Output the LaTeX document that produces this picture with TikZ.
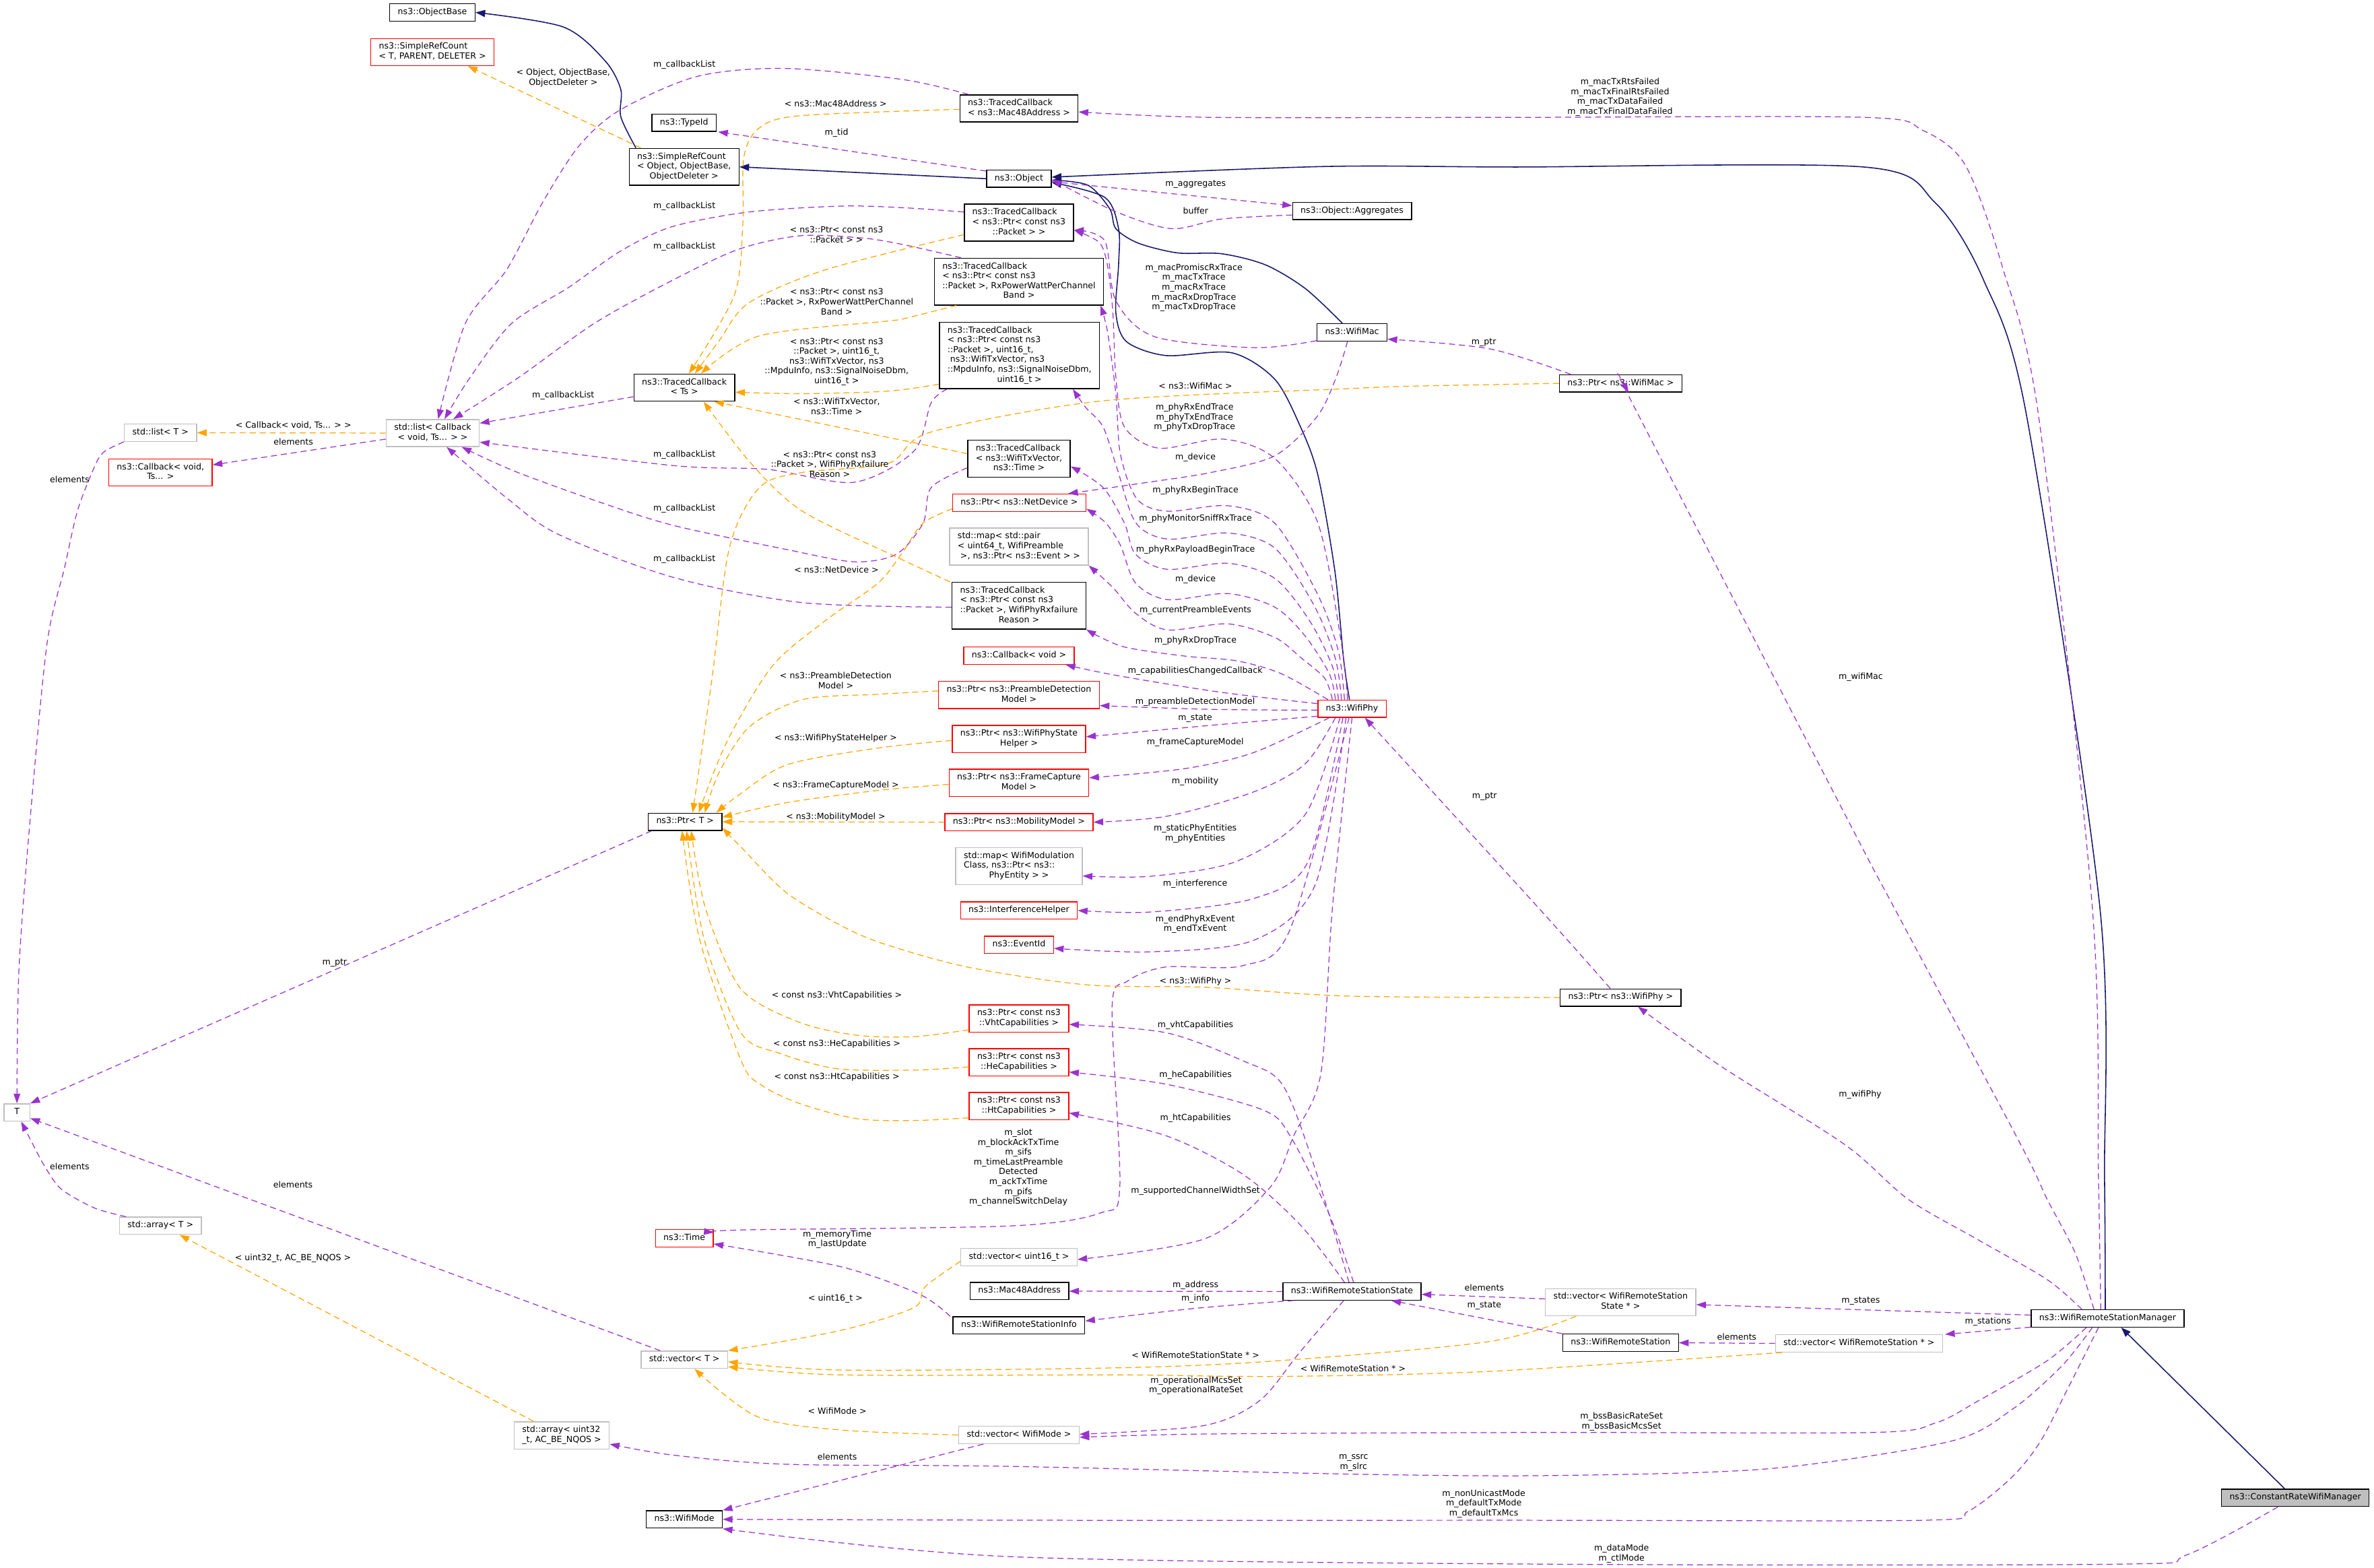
\documentclass[tikz,border=0pt]{standalone}
\usepackage{fontspec}
\setmainfont{DejaVu Sans}
\usetikzlibrary{arrows.meta}
\definecolor{memc}{HTML}{9A32CD}
\definecolor{tplc}{HTML}{FFA500}
\definecolor{inhc}{HTML}{191970}
\definecolor{grayb}{HTML}{BFBFBF}
\newcommand{\nf}{\fontsize{5.6}{6.5}\selectfont}
\newcommand{\nt}[1]{\begin{tabular}{@{}l@{}}#1\end{tabular}}
\newcommand{\lc}[1]{\multicolumn{1}{@{}c@{}}{#1}}
\begin{document}
\begin{tikzpicture}[x=1pt,y=-1pt,
 box/.style={line width=0.6pt, inner xsep=5.3pt, inner ysep=2.45pt, font=\nf, fill=white},
 blkbox/.style={box,draw=black},
 redbox/.style={box,draw=red},
 graybox/.style={box,draw=grayb},
 lbl/.style={font=\nf, align=center, inner sep=0pt},
 lnk/.style={line width=0.55pt, dash pattern=on 4pt off 2.6pt, -{Triangle[length=6.4pt,width=4.4pt]}},
 mem/.style={lnk, draw=memc},
 tpl/.style={lnk, draw=tplc},
 inh/.style={line width=0.7pt, draw=inhc, -{Triangle[length=6.4pt,width=4.6pt]}}]
\fill[white] (0,0) rectangle (1568,1035.5);
\useasboundingbox (0,0) rectangle (1568,1035.5);
% ---------- nodes ----------
\node[blkbox] (objbase) at (285.6,8.2) {\nt{ns3::ObjectBase}};
\node[redbox] (srcT) at (285.6,34.4) {\nt{ns3::SimpleRefCount\\\lc{< T, PARENT, DELETER >}}};
\node[blkbox] (srcObj) at (451.8,110.2) {\nt{ns3::SimpleRefCount\\< Object, ObjectBase,\\\lc{ObjectDeleter >}}};
\node[blkbox] (typeid) at (451.8,81.1) {\nt{ns3::TypeId}};
\node[blkbox] (tcMac) at (673,71.6) {\nt{ns3::TracedCallback\\\lc{< ns3::Mac48Address >}}};
\node[blkbox] (object) at (673,118) {\nt{ns3::Object}};
\node[blkbox] (aggr) at (893,139.3) {\nt{ns3::Object::Aggregates}};
\node[blkbox] (tcPkt) at (673,147) {\nt{ns3::TracedCallback\\< ns3::Ptr< const ns3\\\lc{::Packet > >}}};
\node[blkbox] (tcRx) at (673,186) {\nt{ns3::TracedCallback\\< ns3::Ptr< const ns3\\::Packet >, RxPowerWattPerChannel\\\lc{Band >}}};
\node[blkbox] (wifimac) at (893,219.5) {\nt{ns3::WifiMac}};
\node[blkbox] (tc6) at (673.3,234.7) {\nt{ns3::TracedCallback\\< ns3::Ptr< const ns3\\::Packet >, uint16\_t,\\\ ns3::WifiTxVector, ns3\\::MpduInfo, ns3::SignalNoiseDbm,\\\lc{uint16\_t >}}};
\node[blkbox] (tcTs) at (452,256) {\nt{ns3::TracedCallback\\\lc{< Ts >}}};
\node[blkbox] (ptrMac) at (1070.4,253.2) {\nt{ns3::Ptr< ns3::WifiMac >}};
\node[graybox] (stdlistCb) at (285.8,286) {\nt{std::list< Callback\\\lc{< void, Ts... > >}}};
\node[graybox] (stdlistT) at (106,285.8) {\nt{std::list< T >}};
\node[redbox] (cbvoidTs) at (106,312) {\nt{ns3::Callback< void,\\\lc{Ts... >}}};
\node[blkbox] (tcWtv) at (673,303) {\nt{ns3::TracedCallback\\< ns3::WifiTxVector,\\\lc{ns3::Time >}}};
\node[redbox] (ptrNd) at (673.2,332) {\nt{ns3::Ptr< ns3::NetDevice >}};
\node[graybox] (mapPre) at (673,361) {\nt{std::map< std::pair\\< uint64\_t, WifiPreamble\\\lc{\ >, ns3::Ptr< ns3::Event > >}}};
\node[blkbox] (tcFail) at (673,400) {\nt{ns3::TracedCallback\\< ns3::Ptr< const ns3\\::Packet >, WifiPhyRxfailure\\\lc{Reason >}}};
\node[redbox] (cbvoid) at (673,433) {\nt{ns3::Callback< void >}};
\node[redbox] (ptrPre) at (673,459) {\nt{ns3::Ptr< ns3::PreambleDetection\\\lc{Model >}}};
\node[redbox] (wifiphy) at (893,468) {\nt{ns3::WifiPhy}};
\node[redbox] (ptrState) at (673,488) {\nt{ns3::Ptr< ns3::WifiPhyState\\\lc{Helper >}}};
\node[redbox] (ptrFc) at (673,517) {\nt{ns3::Ptr< ns3::FrameCapture\\\lc{Model >}}};
\node[blkbox] (ptrT) at (452.5,542.7) {\nt{ns3::Ptr< T >}};
\node[redbox] (ptrMob) at (673,543) {\nt{ns3::Ptr< ns3::MobilityModel >}};
\node[graybox] (mapMod) at (673,572) {\nt{std::map< WifiModulation\\Class, ns3::Ptr< ns3::\\\lc{PhyEntity > >}}};
\node[redbox] (interf) at (673,601.3) {\nt{ns3::InterferenceHelper}};
\node[redbox] (eventid) at (673,624) {\nt{ns3::EventId}};
\node[blkbox] (ptrPhy) at (1070.4,658.8) {\nt{ns3::Ptr< ns3::WifiPhy >}};
\node[redbox] (ptrVht) at (673,672.6) {\nt{ns3::Ptr< const ns3\\\lc{::VhtCapabilities >}}};
\node[redbox] (ptrHe) at (673,701.6) {\nt{ns3::Ptr< const ns3\\\lc{::HeCapabilities >}}};
\node[redbox] (ptrHt) at (673,730.5) {\nt{ns3::Ptr< const ns3\\\lc{::HtCapabilities >}}};
\node[graybox, minimum width=17pt] (tnode) at (11.2,734.7) {\nt{T}};
\node[graybox] (arrT) at (106,809.5) {\nt{std::array< T >}};
\node[redbox] (time) at (452,817.8) {\nt{ns3::Time}};
\node[graybox] (vecU16) at (673,830.3) {\nt{std::vector< uint16\_t >}};
\node[blkbox] (mac48) at (673.3,852.7) {\nt{ns3::Mac48Address}};
\node[blkbox] (wrss) at (893,852.9) {\nt{ns3::WifiRemoteStationState}};
\node[graybox] (vecWrss) at (1070.4,860) {\nt{std::vector< WifiRemoteStation\\\lc{State * >}}};
\node[blkbox] (wrsm) at (1392,870.7) {\nt{ns3::WifiRemoteStationManager}};
\node[blkbox] (wrsinfo) at (673,875.3) {\nt{ns3::WifiRemoteStationInfo}};
\node[blkbox] (wrs) at (1070.4,886.8) {\nt{ns3::WifiRemoteStation}};
\node[graybox] (vecWrs) at (1227.8,887.2) {\nt{std::vector< WifiRemoteStation * >}};
\node[graybox] (vecT) at (452,898) {\nt{std::vector< T >}};
\node[graybox] (arrU32) at (371,948) {\nt{std::array< uint32\\\lc{\_t, AC\_BE\_NQOS >}}};
\node[graybox] (vecMode) at (673,947.7) {\nt{std::vector< WifiMode >}};
\node[blkbox, fill=grayb] (crwm) at (1516,989.2) {\nt{ns3::ConstantRateWifiManager}};
\node[blkbox] (wifimode) at (452,1003.4) {\nt{ns3::WifiMode}};
% ---------- inheritance ----------
\draw[inh] plot[smooth] coordinates {([xshift=-31.8pt]srcObj.north) (410,77) (410,59) (399.5,40) (372,17.8) (objbase.east)};
\draw[inh] (object.west) -- (srcObj.east);
\draw[inh] plot[smooth] coordinates {([xshift=-6.4pt]wifimac.north) (862.3,190.7) (836,175) (807,167.6) (777.6,167) (751.6,160.5) (737,151) (733,138) (718.5,122.3) ([yshift=-1pt]object.east)};
\draw[inh] plot[smooth] coordinates {([xshift=-1.7pt]wifiphy.north) (887.5,436) (881.7,377.5) (870.5,314) (859,282) (842,250.5) (813.6,233) (770,234.8) (744,225.6) (737,206.5) (738.8,174.8) (738.8,151) (729.6,130.3) ([yshift=-2.5pt]object.east)};
\draw[inh] plot[smooth] coordinates {([xshift=-1.5pt]wrsm.north) (1390,778) (1387,600) (1338.5,274.4) (1310,184.7) (1278,133.7) (1231,110.3) (1000,110.3) (873,110) ([yshift=1pt]object.east)};
\draw[inh] ([xshift=-7pt]crwm.north) -- ([xshift=9pt]wrsm.south);
% ---------- members ----------
\draw[mem] plot[smooth] coordinates {([xshift=6pt]tcMac.north west) (596.8,52.6) (518.5,45.2) (460.7,50.4) (409.6,72.6) (382.4,96.4) (358.5,133.5) (334.7,178) (307.4,213.5) ([xshift=3.6pt]stdlistCb.north)};
\draw[mem] plot[smooth] coordinates {([yshift=7pt]tcPkt.west) (596.8,137.2) (556,136.1) (494.7,140) (443.6,149.8) (409.6,166) (375.6,189.8) (338,213.5) (310,250) ([xshift=7.8pt]stdlistCb.north)};
\draw[mem] plot[smooth] coordinates {([xshift=18pt]tcRx.north west) (596.8,161.6) (569.6,157.2) (528.7,155.7) (487.9,164.6) (443.6,185.4) (392.6,213.5) (343,249) ([xshift=13.6pt]stdlistCb.north)};
\draw[mem] ([yshift=-6pt]tcTs.west) -- ([yshift=6.5pt]stdlistCb.east);
\draw[mem] plot[smooth] coordinates {([xshift=5.4pt]tc6.south west) (615,266) (603.6,298) (564,318.5) (507,310) (445,307.5) ([yshift=-6pt]stdlistCb.east)};
\draw[mem] plot[smooth] coordinates {([yshift=-6pt]tcWtv.west) (615,322) (609.6,345.6) (592,366) (564,371) (520,363) (444.8,347) (397.2,332) (340.4,311.4) ([xshift=19.2pt]stdlistCb.south)};
\draw[mem] plot[smooth] coordinates {([yshift=-1pt]tcFail.west) (530,398) (445,381.4) (369,353) (334.8,329) ([xshift=9.2pt]stdlistCb.south)};
\draw[mem] ([yshift=-4pt]stdlistCb.west) -- ([yshift=5pt]cbvoidTs.east);
\draw[mem] plot[smooth] coordinates {(stdlistT.south west) (68,299) (61,311.5) (51,338) (42.6,375) (31,425.5) (20,540) (12.5,640.6) (tnode.north)};
\draw[mem] ([xshift=2.5pt]ptrT.south west) -- (tnode.north east);
\draw[mem] plot[smooth] coordinates {([xshift=4.6pt]arrT.north west) (62.4,797.8) (40.6,785.4) (29.6,770.4) (20.3,753) ([xshift=2.8pt]tnode.south)};
\draw[mem] ([xshift=13pt]vecT.north west) -- ([yshift=-3.8pt]tnode.east);
\draw[mem] plot[smooth] coordinates {([xshift=-4.5pt]wrsm.north) (1386,778) (1382,600) (1346.6,275.8) (1322.4,175.8) (1298,109) (1269.8,86) (1231,77.5) (1000,77.5) (800,77.5) ([yshift=-2.3pt]tcMac.east)};
\draw[mem] ([yshift=-2pt]object.east) -- ([yshift=3.5pt]aggr.west);
\draw[mem] plot[smooth] coordinates {([yshift=-2.7pt]aggr.west) (807,144.6) (773.8,151) (737,139.8) ([yshift=-0.5pt]object.east)};
\draw[mem] ([yshift=5pt]object.west) -- ([xshift=1pt]typeid.south east);
\draw[mem] plot[smooth] coordinates {([yshift=-5.5pt]wifimac.west) (829,229.6) (762.7,222.4) (737,198.6) (729.6,159) ([yshift=-5pt]tcPkt.east)};
\draw[mem] plot[smooth] coordinates {([xshift=-3pt]wifiphy.north) (886,425) (870.5,345.6) (842,302.8) (808,290) (765.5,296) (742.7,282) (737,249) (735,206) (731.4,175) (725.9,160) ([yshift=-5pt]tcPkt.east)};
\draw[mem] plot[smooth] coordinates {([xshift=-5pt]wifiphy.north) (884,430) (870.5,393) (842,345.6) (811,334) (771,337.6) (751,329.6) (740,300) (737,260) (731.4,218.6) ([xshift=-2.3pt]tcRx.south east)};
\draw[mem] plot[smooth] coordinates {([xshift=-3pt]wifimac.south) (882.6,249) (870,275) (842,301) (800,312) (757,318.7) ([xshift=-12pt]ptrNd.north east)};
\draw[mem] plot[smooth] coordinates {([xshift=-7pt]wifiphy.north) (882,435) (868,400) (842,362) (811,352) (771,356) (750,345) (738,310) (728.6,282) (717,269) ([xshift=35.3pt]tc6.south)};
\draw[mem] plot[smooth] coordinates {([xshift=-9pt]wifiphy.north) (880,440) (865,410) (842,382) (811,372) (771,376) (750,366) (742.7,345.6) (728.6,322) ([yshift=-5pt]tcWtv.east)};
\draw[mem] plot[smooth] coordinates {([xshift=-11pt]wifiphy.north) (878,445) (862,420) (842,401) (811,392) (771,396) (750,385) (740,360) (730,345) ([yshift=-4pt]ptrNd.east)};
\draw[mem] plot[smooth] coordinates {([xshift=-13pt]wifiphy.north) (875,448) (860,435) (842,421) (811,412) (771,416) (750,405) (735,388) (mapPre.south east)};
\draw[mem] plot[smooth] coordinates {([xshift=-16pt]wifiphy.north) (846,444.8) (816.6,436.4) (782.6,433.3) (741.6,427) (tcFail.south east)};
\draw[mem] plot[smooth] coordinates {([yshift=3.3pt]wifiphy.west) (805,457) (737,446) ([xshift=-6pt]cbvoid.south east)};
\draw[mem] plot[smooth] coordinates {([yshift=-1pt]wifiphy.west) (800,468.5) ([yshift=-7pt]ptrPre.east)};
\draw[mem] plot[smooth] coordinates {([yshift=-5pt]wifiphy.west) (800,479) ([yshift=1.4pt]ptrState.east)};
\draw[mem] plot[smooth] coordinates {([xshift=-15pt]wifiphy.south) (828,497) (782.6,507.6) ([yshift=3.3pt]ptrFc.east)};
\draw[mem] plot[smooth] coordinates {([xshift=-11pt]wifiphy.south) (862,504.5) (828,523) (771,539) (ptrMob.east)};
\draw[mem] plot[smooth] coordinates {([xshift=-8pt]wifiphy.south) (862,538) (816.6,568.9) (760,578.7) ([yshift=-6.5pt]mapMod.east)};
\draw[mem] plot[smooth] coordinates {([xshift=-6pt]wifiphy.south) (864,568.9) (828,593.4) (760,602.3) (interf.east)};
\draw[mem] plot[smooth] coordinates {([xshift=-4pt]wifiphy.south) (868.8,584) (828,621) (760,628.6) ([yshift=-2.3pt]eventid.east)};
\draw[mem] plot[smooth] coordinates {([xshift=-2pt]wifiphy.south) (852,614) (821,637.7) (770,638.6) (744.6,648) (734.5,665) (739.6,784) (727,801) (668,809.6) (489.3,812.3) ([yshift=3.8pt]time.east)};
\draw[mem] plot[smooth] coordinates {(wifiphy.south) (880,600) (872.4,709) (854.5,750) (839,784) (796,818) ([yshift=-1.5pt]vecU16.east)};
\draw[mem] plot[smooth] coordinates {([xshift=-6.8pt]ptrPhy.north) (1017,600.5) ([xshift=8.5pt]wifiphy.south)};
\draw[mem] plot[smooth] coordinates {([xshift=-17pt]wrsm.north) (1352,845) (1306,818.5) (1260,791.8) (1218.6,756) (1136.4,704) ([xshift=11.4pt]ptrPhy.south)};
\draw[mem] plot[smooth] coordinates {([xshift=-9pt]wrsm.north) (1370.6,827.4) (1352,791.8) (1334.7,756) (1251.6,600.5) (1221.6,543.7) (1078.5,267) ([xshift=5.2pt]ptrMac.south)};
\draw[mem] plot[smooth] coordinates {([xshift=-33pt]ptrMac.north) (984,230.4) ([yshift=-4.5pt]wifimac.east)};
\draw[mem] plot[smooth] coordinates {([xshift=-2pt]wrss.north) (867,767) (846.8,716) (821,700.6) (770,682) ([yshift=-3.9pt]ptrVht.east)};
\draw[mem] plot[smooth] coordinates {([xshift=1pt]wrss.north) (877.5,801) (852,750) (834,733) (770,716) ([yshift=-6.4pt]ptrHe.east)};
\draw[mem] plot[smooth] coordinates {([xshift=-5pt]wrss.north) (859.4,809.6) (821,775.6) (770,750) ([yshift=-4.5pt]ptrHt.east)};
\draw[mem] (wrss.west) -- (mac48.east);
\draw[mem] plot[smooth] coordinates {([xshift=7.3pt]wrss.south west) (790,864) ([yshift=2.9pt]wrsinfo.east)};
\draw[mem] plot[smooth] coordinates {([xshift=-1.6pt]wrsinfo.north west) (607,854.6) (555.5,836.6) ([yshift=-3.7pt]time.east)};
\draw[mem] plot[smooth] coordinates {([xshift=-5.5pt]wrss.south) (858,893.6) (832,925) (795,941.5) ([yshift=0.5pt]vecMode.east)};
\draw[mem] ([yshift=2.2pt]wrsm.west) -- ([yshift=-1.6pt]vecWrss.east);
\draw[mem] ([yshift=-5.8pt]wrsm.west) -- ([xshift=1.4pt]vecWrs.north east);
\draw[mem] ([yshift=2.2pt]vecWrss.west) -- ([yshift=-1.9pt]wrss.east);
\draw[mem] (wrs.north west) -- ([xshift=-20pt]wrss.south east);
\draw[mem] (vecWrs.west) -- (wrs.east);
\draw[mem] plot[smooth] coordinates {([xshift=-14pt]wrsm.south) (1352,898.7) (1306,925.5) (1278.5,939.7) (1237,946) (1023,946) (800,947) ([yshift=-1.5pt]vecMode.east)};
\draw[mem] plot[smooth] coordinates {([xshift=-10pt]wrsm.south) (1361.6,902.3) (1329,930.8) (1287.7,952) (1167.8,970) (1023,974.5) (891.3,973.5) (666,968.4) (518.6,967) (444.8,961) ([yshift=-5.7pt]arrU32.east)};
\draw[mem] plot[smooth] coordinates {([xshift=-6pt]wrsm.south) (1366,916.5) (1347.6,952) (1329,975.4) (1300,998) (1270,1004) (1000,1004) (700,1004) (wifimode.east)};
\draw[mem] plot[smooth] coordinates {([xshift=-11.5pt]crwm.south) (1444,1027) (1398,1033) (1023,1033) (666,1028) ([yshift=-6.2pt]wifimode.east)};
\draw[mem] ([xshift=-23.5pt]vecMode.south) -- (wifimode.north east);
% ---------- templates ----------
\draw[tpl] ([xshift=8pt]srcObj.north west) -- ([xshift=23.4pt]srcT.south);
\draw[tpl] (stdlistCb.west) -- (stdlistT.east);
\draw[tpl] ([xshift=-18.4pt]arrU32.north) -- ([xshift=12.6pt]arrT.south);
\draw[tpl] plot[smooth] coordinates {([yshift=-2.7pt]vecU16.west) (610.8,850) (603.5,863.6) (555.5,878.6) (vecT.north east)};
\draw[tpl] plot[smooth] coordinates {([xshift=-29.4pt]vecWrss.south) (983.5,886) (845,898.6) (739.8,903.3) (555.5,904.8) ([yshift=-1.3pt]vecT.east)};
\draw[tpl] plot[smooth] coordinates {([xshift=-50.8pt]vecWrs.south) (983.5,905.7) (845,909) (739.8,908) (555.5,908) ([yshift=-4.6pt]vecT.east)};
\draw[tpl] plot[smooth] coordinates {(vecMode.west) (555.5,944.4) (500,935.5) ([xshift=6.7pt]vecT.south)};
\draw[tpl] plot[smooth] coordinates {([yshift=-0.6pt]tcMac.west) (528.7,76.4) (501.5,84.5) (491.3,103.8) (490.6,148.3) (485,195) ([xshift=3pt]tcTs.north)};
\draw[tpl] plot[smooth] coordinates {([yshift=-8pt]tcPkt.west) (545.7,178) (494.6,200) (475,225) ([xshift=7pt]tcTs.north)};
\draw[tpl] plot[smooth] coordinates {([xshift=14.8pt]tcRx.south west) (596.8,210.5) (586.7,212) (501.6,221.8) ([xshift=11pt]tcTs.north)};
\draw[tpl] plot[smooth] coordinates {([yshift=-19pt]tc6.west) (586.7,258.3) (530,260) ([yshift=-3pt]tcTs.east)};
\draw[tpl] ([yshift=3.4pt]tcWtv.west) -- ([xshift=19.8pt]tcTs.south);
\draw[tpl] plot[smooth] coordinates {([xshift=-1pt]tcFail.north west) (592.4,368) (530,337.6) (496,306) ([xshift=12.7pt]tcTs.south)};
\draw[tpl] plot[smooth] coordinates {(ptrMac.west) (934,255) (889.7,256.7) (728.6,264.7) (615,285.3) (586.7,306) (530,312) (501.6,322) (481.8,361.6) (470,450) ([xshift=5pt]ptrT.north)};
\draw[tpl] plot[smooth] coordinates {([yshift=-4pt]ptrNd.west) (609.5,345.6) (596,365) (580,385) (545,410) (510,440) (480,490) ([xshift=9pt]ptrT.north)};
\draw[tpl] plot[smooth] coordinates {([yshift=2.7pt]ptrPre.west) (578.3,458.6) (530,462) (495,480) (475,510) ([xshift=13pt]ptrT.north)};
\draw[tpl] plot[smooth] coordinates {([yshift=-1pt]ptrState.west) (580,494) (520,505) (488,525) ([xshift=-4pt]ptrT.north east)};
\draw[tpl] plot[smooth] coordinates {([yshift=-1pt]ptrFc.west) (580,522) (520,530) ([yshift=3pt]ptrT.east)};
\draw[tpl] (ptrMob.west) -- (ptrT.east);
\draw[tpl] plot[smooth] coordinates {(ptrPhy.west) (889.7,657.8) (796,652) (719,650.5) (642.5,639.4) (591.4,625.8) (560.8,614) (520,590) (490,560) ([yshift=-4pt]ptrT.east)};
\draw[tpl] plot[smooth] coordinates {([yshift=-7.5pt]ptrVht.west) (604.2,684.6) (566,683.7) (527.6,675) (489.3,653) (466,600) ([xshift=4pt]ptrT.south)};
\draw[tpl] plot[smooth] coordinates {([yshift=-3pt]ptrHe.west) (604.2,706.7) (553,705.8) (514.9,695.6) (489.3,682) (465,620) ([xshift=1pt]ptrT.south)};
\draw[tpl] plot[smooth] coordinates {([yshift=-7.7pt]ptrHt.west) (604.2,740) (566,738.8) (527.6,728.6) (502,716) (489.3,700) (462,620) ([xshift=-2pt]ptrT.south)};
% ---------- labels ----------
\node[lbl] (l1) at (452,43) {m\_callbackList};
\node[lbl] (l2) at (452,136) {m\_callbackList};
\node[lbl] (l3) at (452,163) {m\_callbackList};
\node[lbl] (l4) at (372,261) {m\_callbackList};
\node[lbl] (l5) at (452,300.5) {m\_callbackList};
\node[lbl] (l6) at (452,336) {m\_callbackList};
\node[lbl] (l7) at (452,369.5) {m\_callbackList};
\node[lbl] (l8) at (193.8,291.5) {elements};
\node[lbl] (l9) at (193.8,281) {< Callback< void, Ts... > >};
\node[lbl] (l10) at (46,316.8) {elements};
\node[lbl] (l11) at (221,636) {m\_ptr};
\node[lbl] (l12) at (46,770.5) {elements};
\node[lbl] (l13) at (193.5,782.5) {elements};
\node[lbl] (l14) at (193.5,830.8) {< uint32\_t, AC\_BE\_NQOS >};
\node[lbl] (l15) at (372,51.5) {< Object, ObjectBase,\\ObjectDeleter >};
\node[lbl] (l16) at (551.9,68.5) {< ns3::Mac48Address >};
\node[lbl] (l17) at (552.5,87.5) {m\_tid};
\node[lbl] (l18) at (552.5,154.9) {< ns3::Ptr< const ns3\\::Packet > >};
\node[lbl] (l19) at (552.6,199.2) {< ns3::Ptr< const ns3\\::Packet >, RxPowerWattPerChannel\\Band >};
\node[lbl] (l20) at (552.6,238.9) {< ns3::Ptr< const ns3\\::Packet >, uint16\_t,\\ ns3::WifiTxVector, ns3\\::MpduInfo, ns3::SignalNoiseDbm,\\uint16\_t >};
\node[lbl] (l21) at (552.6,268.3) {< ns3::WifiTxVector,\\ns3::Time >};
\node[lbl] (l22) at (548,306.5) {< ns3::Ptr< const ns3\\::Packet >, WifiPhyRxfailure\\Reason >};
\node[lbl] (l23) at (552.5,376.4) {< ns3::NetDevice >};
\node[lbl] (l24) at (552,449.5) {< ns3::PreambleDetection\\Model >};
\node[lbl] (l25) at (552,487.6) {< ns3::WifiPhyStateHelper >};
\node[lbl] (l26) at (552,518.7) {< ns3::FrameCaptureModel >};
\node[lbl] (l27) at (552,539.5) {< ns3::MobilityModel >};
\node[lbl] (l28) at (552.7,657.6) {< const ns3::VhtCapabilities >};
\node[lbl] (l29) at (552.7,689.6) {< const ns3::HeCapabilities >};
\node[lbl] (l30) at (552.7,711.4) {< const ns3::HtCapabilities >};
\node[lbl] (l31) at (553,818.5) {m\_memoryTime\\m\_lastUpdate};
\node[lbl] (l32) at (551.8,857.6) {< uint16\_t >};
\node[lbl] (l33) at (789.6,895) {< WifiRemoteStationState * >};
\node[lbl] (l34) at (893.6,903.7) {< WifiRemoteStation * >};
\node[lbl] (l35) at (553,931.7) {< WifiMode >};
\node[lbl] (l36) at (553,962) {elements};
\node[lbl] (l37) at (1070,64.2) {m\_macTxRtsFailed\\m\_macTxFinalRtsFailed\\m\_macTxDataFailed\\m\_macTxFinalDataFailed};
\node[lbl] (l38) at (789.7,121.5) {m\_aggregates};
\node[lbl] (l39) at (789.7,139) {buffer};
\node[lbl] (l40) at (788.5,190) {m\_macPromiscRxTrace\\m\_macTxTrace\\m\_macRxTrace\\m\_macRxDropTrace\\m\_macTxDropTrace};
\node[lbl] (l41) at (980,226.4) {m\_ptr};
\node[lbl] (l42) at (789.6,254.7) {< ns3::WifiMac >};
\node[lbl] (l43) at (789,275.7) {m\_phyRxEndTrace\\m\_phyTxEndTrace\\m\_phyTxDropTrace};
\node[lbl] (l44) at (789.6,302.3) {m\_device};
\node[lbl] (l45) at (789.6,323.8) {m\_phyRxBeginTrace};
\node[lbl] (l46) at (789.6,342.7) {m\_phyMonitorSniffRxTrace};
\node[lbl] (l47) at (789.6,362.9) {m\_phyRxPayloadBeginTrace};
\node[lbl] (l48) at (789.6,382.7) {m\_device};
\node[lbl] (l49) at (789.6,403.3) {m\_currentPreambleEvents};
\node[lbl] (l50) at (789.6,423.3) {m\_phyRxDropTrace};
\node[lbl] (l51) at (789.4,443.2) {m\_capabilitiesChangedCallback};
\node[lbl] (l52) at (789.4,463.5) {m\_preambleDetectionModel};
\node[lbl] (l53) at (789.4,474.5) {m\_state};
\node[lbl] (l54) at (789.4,490.5) {m\_frameCaptureModel};
\node[lbl] (l55) at (789.4,516.3) {m\_mobility};
\node[lbl] (l56) at (789.4,550.5) {m\_staticPhyEntities\\m\_phyEntities};
\node[lbl] (l57) at (789.4,583.6) {m\_interference};
\node[lbl] (l58) at (789.4,610.3) {m\_endPhyRxEvent\\m\_endTxEvent};
\node[lbl] (l59) at (789.6,648) {< ns3::WifiPhy >};
\node[lbl] (l60) at (789.6,677.2) {m\_vhtCapabilities};
\node[lbl] (l61) at (789.6,710.2) {m\_heCapabilities};
\node[lbl] (l62) at (789.6,738.6) {m\_htCapabilities};
\node[lbl] (l63) at (672.6,771) {m\_slot\\m\_blockAckTxTime\\m\_sifs\\m\_timeLastPreamble\\Detected\\m\_ackTxTime\\m\_pifs\\m\_channelSwitchDelay};
\node[lbl] (l64) at (789.6,786.6) {m\_supportedChannelWidthSet};
\node[lbl] (l65) at (789.6,849) {m\_address};
\node[lbl] (l66) at (789.6,857.6) {m\_info};
\node[lbl] (l67) at (790,915) {m\_operationalMcsSet\\m\_operationalRateSet};
\node[lbl] (l68) at (1071,939) {m\_bssBasicRateSet\\m\_bssBasicMcsSet};
\node[lbl] (l69) at (894,966) {m\_ssrc\\m\_slrc};
\node[lbl] (l70) at (980,993) {m\_nonUnicastMode\\m\_defaultTxMode\\m\_defaultTxMcs};
\node[lbl] (l71) at (1071,1026) {m\_dataMode\\m\_ctlMode};
\node[lbl] (l72) at (980.5,526) {m\_ptr};
\node[lbl] (l73) at (1228.6,723) {m\_wifiPhy};
\node[lbl] (l74) at (1229,447) {m\_wifiMac};
\node[lbl] (l75) at (1229,859.2) {m\_states};
\node[lbl] (l76) at (1313,873) {m\_stations};
\node[lbl] (l77) at (980.3,850.6) {elements};
\node[lbl] (l78) at (980.3,862.5) {m\_state};
\node[lbl] (l79) at (1147.1,883) {elements};
\end{tikzpicture}
\end{document}
